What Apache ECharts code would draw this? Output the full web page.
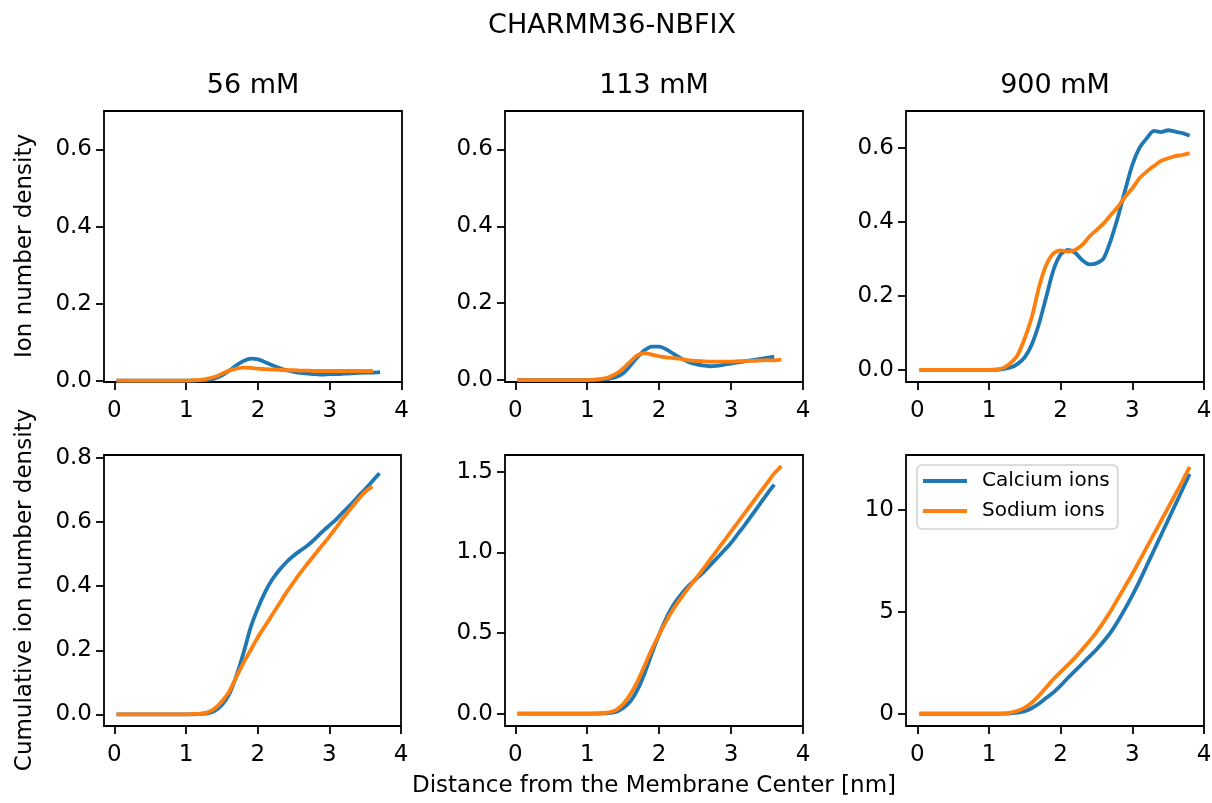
<!DOCTYPE html>
<html>
<head>
<meta charset="utf-8">
<script src="https://cdn.jsdelivr.net/npm/echarts@6/dist/echarts.min.js"></script>
<style>
html,body{margin:0;padding:0;background:#fff;}
#chart{width:1212px;height:803px;}
</style>
</head>
<body>
<div id="chart"></div>
<script>
// ---- data ----
const suptitle = "CHARMM36-NBFIX";
const columnTitles = ["56 mM", "113 mM", "900 mM"];
const yLabelTop = "Ion number density";
const yLabelBottom = "Cumulative ion number density";
const xLabel = "Distance from the Membrane Center [nm]";
const seriesNames = ["Calcium ions", "Sodium ions"];

// distance [nm]; each series uses the leading part of this list
const distance = [0.03, 0.5, 1.0, 1.1, 1.2, 1.3, 1.4, 1.5, 1.6, 1.7, 1.8, 1.9, 2.0, 2.1, 2.2, 2.3, 2.4, 2.5, 2.6, 2.7, 2.8, 2.9, 3.0, 3.1, 3.2, 3.3, 3.4, 3.5, 3.6, 3.7, 3.8];

// top row: ion number density
const ca56 = [0,0,0,0,0.001,0.002,0.006,0.014,0.026,0.040,0.051,0.057,0.055,0.048,0.040,0.033,0.027,0.023,0.020,0.018,0.017,0.016,0.017,0.017,0.018,0.019,0.020,0.021,0.021,0.022];
const na56 = [0,0,0,0.001,0.002,0.005,0.010,0.018,0.026,0.031,0.034,0.033,0.031,0.030,0.029,0.028,0.027,0.027,0.026,0.026,0.025,0.025,0.025,0.025,0.025,0.025,0.025,0.025,0.025];
const ca113 = [0,0,0,0,0.001,0.003,0.008,0.018,0.038,0.060,0.078,0.087,0.087,0.080,0.068,0.057,0.048,0.042,0.038,0.036,0.037,0.040,0.043,0.046,0.049,0.052,0.055,0.058,0.060];
const na113 = [0,0,0,0.001,0.003,0.007,0.016,0.030,0.048,0.065,0.070,0.066,0.062,0.059,0.057,0.055,0.052,0.050,0.049,0.048,0.048,0.048,0.048,0.049,0.050,0.050,0.051,0.052,0.051,0.053];
const ca900 = [0,0,0,0,0.002,0.006,0.016,0.034,0.070,0.126,0.198,0.270,0.312,0.324,0.317,0.297,0.285,0.288,0.302,0.351,0.414,0.486,0.554,0.600,0.626,0.646,0.643,0.648,0.644,0.640,0.633];
const na900 = [0,0,0,0.001,0.005,0.018,0.040,0.086,0.144,0.225,0.284,0.315,0.323,0.320,0.324,0.338,0.360,0.378,0.396,0.419,0.441,0.468,0.491,0.518,0.536,0.551,0.565,0.572,0.578,0.581,0.586];

// bottom row: cumulative ion number density
const cumCa56 = [0,0,0,0,0.001,0.003,0.011,0.029,0.062,0.118,0.190,0.270,0.330,0.380,0.420,0.450,0.475,0.495,0.512,0.528,0.548,0.570,0.590,0.610,0.633,0.655,0.680,0.703,0.728,0.753];
const cumNa56 = [0,0,0,0.001,0.002,0.006,0.018,0.040,0.070,0.115,0.160,0.200,0.240,0.275,0.310,0.345,0.380,0.412,0.443,0.472,0.500,0.528,0.555,0.585,0.615,0.643,0.670,0.695,0.712];
const cumCa113 = [0,0,0,0,0.001,0.003,0.010,0.035,0.076,0.149,0.252,0.375,0.490,0.592,0.675,0.737,0.788,0.830,0.870,0.916,0.963,1.010,1.060,1.118,1.176,1.238,1.300,1.362,1.420];
const cumNa113 = [0,0,0,0.001,0.003,0.008,0.022,0.060,0.120,0.200,0.300,0.400,0.490,0.575,0.650,0.715,0.775,0.832,0.890,0.950,1.010,1.070,1.130,1.190,1.250,1.310,1.370,1.430,1.490,1.535];
const cumCa900 = [0,0,0,0,0.005,0.020,0.050,0.120,0.280,0.500,0.780,1.050,1.380,1.750,2.100,2.450,2.800,3.150,3.550,4.000,4.550,5.150,5.800,6.500,7.250,8.000,8.750,9.500,10.250,11.000,11.750];
const cumNa900 = [0,0,0,0.005,0.020,0.060,0.150,0.300,0.550,0.900,1.300,1.700,2.050,2.400,2.750,3.150,3.550,4.000,4.500,5.050,5.650,6.250,6.850,7.500,8.150,8.800,9.450,10.100,10.750,11.400,12.100];

// tick values
const xTicks = [0, 1, 2, 3, 4];
const yTicksTop = [0, 0.2, 0.4, 0.6];
const yTicks56 = [0, 0.2, 0.4, 0.6, 0.8];
const yTicks113 = [0, 0.5, 1.0, 1.5];
const yTicks900 = [0, 5, 10];

// ---- chart ----
const FONT = "DejaVu Sans";
const COLORS = ["#1f77b4", "#ff7f0e"];
const chart = echarts.init(document.getElementById("chart"), null, {renderer: "canvas"});

const panels = [
  {left:104, top:111, width:298, height:271, xmin:-0.145, xmax:4.005, ymin:-0.0035, ymax:0.7,  ticks:yTicksTop, dec:1, ca:ca56,  na:na56},
  {left:505, top:111, width:298, height:271, xmin:-0.143, xmax:4.0,   ymin:-0.005,  ymax:0.7,  ticks:yTicksTop, dec:1, ca:ca113, na:na113},
  {left:906, top:111, width:298, height:271, xmin:-0.158, xmax:4.0,   ymin:-0.033,  ymax:0.7,  ticks:yTicksTop, dec:1, ca:ca900, na:na900},
  {left:104, top:455, width:297, height:271, xmin:-0.145, xmax:4.0,   ymin:-0.0366, ymax:0.81, ticks:yTicks56,  dec:1, ca:cumCa56,  na:cumNa56},
  {left:505, top:455, width:298, height:271, xmin:-0.143, xmax:4.0,   ymin:-0.0765, ymax:1.604,ticks:yTicks113, dec:1, ca:cumCa113, na:cumNa113},
  {left:906, top:455, width:298, height:271, xmin:-0.158, xmax:4.0,   ymin:-0.6,    ymax:12.68,ticks:yTicks900, dec:0, ca:cumCa900, na:cumNa900}
];

const grids = [], xAxes = [], yAxes = [], series = [];
const tickStyle = {show:true, inside:false, length:8, lineStyle:{color:"#000", width:1.8}};
const labelBase = {color:"#000", fontFamily:FONT, fontSize:23};

function pairs(vals){ return vals.map((v,i)=>[distance[i], v]); }

panels.forEach((p, i) => {
  grids.push({left:p.left, top:p.top, width:p.width, height:p.height, show:true,
    borderColor:"#000", borderWidth:1.8, backgroundColor:"#fff",
    containLabel:false, outerBoundsMode:"none"});
  xAxes.push({type:"value", gridIndex:i, min:p.xmin, max:p.xmax,
    axisLine:{show:false, onZero:false}, splitLine:{show:false},
    axisTick:Object.assign({}, tickStyle, {customValues:xTicks}),
    axisLabel:Object.assign({}, labelBase, {margin:18, customValues:xTicks, formatter:v=>String(Math.round(v))})});
  yAxes.push({type:"value", gridIndex:i, min:p.ymin, max:p.ymax,
    axisLine:{show:false, onZero:false}, splitLine:{show:false},
    axisTick:Object.assign({}, tickStyle, {customValues:p.ticks}),
    axisLabel:Object.assign({}, labelBase, {margin:12, customValues:p.ticks, formatter:v=>Number(v).toFixed(p.dec)})});
  [p.ca, p.na].forEach((vals, k) => {
    series.push({type:"line", name:seriesNames[k], xAxisIndex:i, yAxisIndex:i,
      data:pairs(vals), showSymbol:false, symbol:"none", smooth:0.25, clip:true,
      color:COLORS[k], lineStyle:{color:COLORS[k], width:3.8}, z:2+k, animation:false});
  });
});

const graphics = [
  {type:"text", x:612, y:26, style:{text:suptitle, fontFamily:FONT, fontSize:27, fill:"#000", textAlign:"center", textVerticalAlign:"middle"}},
  {type:"text", x:253, y:86, style:{text:columnTitles[0], fontFamily:FONT, fontSize:27, fill:"#000", textAlign:"center", textVerticalAlign:"middle"}},
  {type:"text", x:654, y:86, style:{text:columnTitles[1], fontFamily:FONT, fontSize:27, fill:"#000", textAlign:"center", textVerticalAlign:"middle"}},
  {type:"text", x:1055, y:86, style:{text:columnTitles[2], fontFamily:FONT, fontSize:27, fill:"#000", textAlign:"center", textVerticalAlign:"middle"}},
  {type:"text", x:25, y:246, rotation:Math.PI/2, style:{text:yLabelTop, fontFamily:FONT, fontSize:23, fill:"#000", textAlign:"center", textVerticalAlign:"middle"}},
  {type:"text", x:25, y:590, rotation:Math.PI/2, style:{text:yLabelBottom, fontFamily:FONT, fontSize:23, fill:"#000", textAlign:"center", textVerticalAlign:"middle"}},
  {type:"text", x:654, y:786, style:{text:xLabel, fontFamily:FONT, fontSize:23, fill:"#000", textAlign:"center", textVerticalAlign:"middle"}}
];

chart.setOption({
  animation:false,
  backgroundColor:"#fff",
  grid:grids, xAxis:xAxes, yAxis:yAxes, series:series,
  legend:{show:true, orient:"vertical", left:917, top:465, data:seriesNames,
    icon:"path://M0,0H44V4H0Z", itemWidth:44, itemHeight:20, itemGap:10,
    backgroundColor:"rgba(255,255,255,0.8)", borderColor:"#d0d0d0", borderWidth:1.5, borderRadius:5,
    padding:[6,8,8,6],
    textStyle:{color:"#000", fontFamily:FONT, fontSize:20, padding:[0,0,0,10]}},
  graphic:graphics
});
</script>
</body>
</html>
